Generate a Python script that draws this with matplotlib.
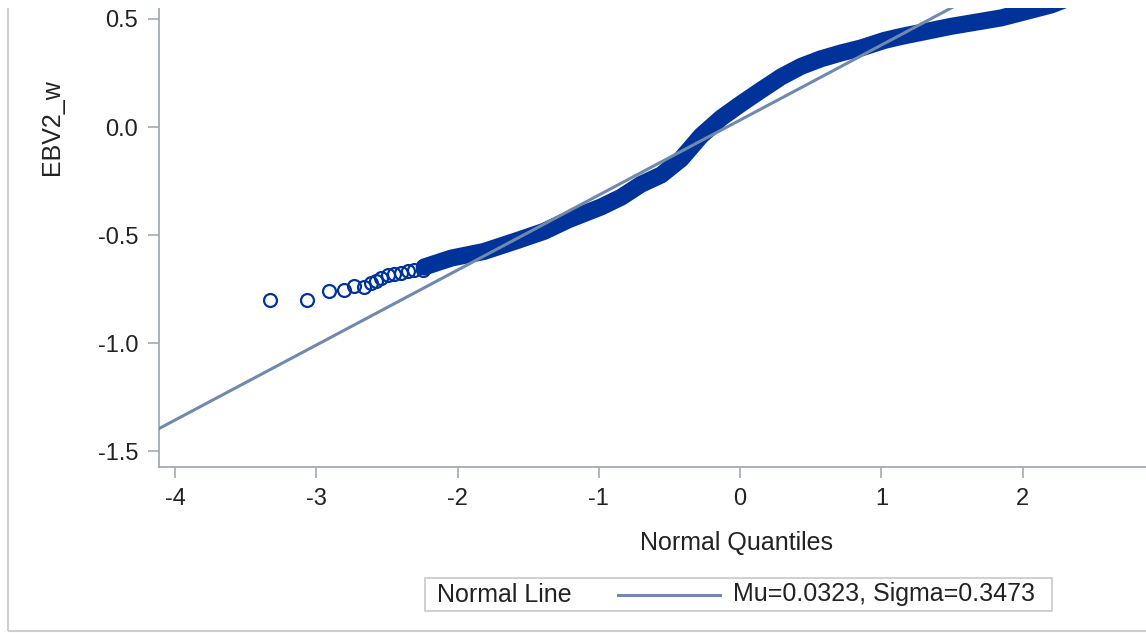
import matplotlib
matplotlib.use('Agg')
import matplotlib.pyplot as plt
from matplotlib.patches import Rectangle
from matplotlib.lines import Line2D
from matplotlib.ticker import FormatStrFormatter

plt.rcParams['font.family'] = ['Liberation Sans', 'DejaVu Sans']
plt.rcParams['axes.unicode_minus'] = False

# normal line parameters
mu = 0.0323
sigma = 0.3473

# lowest observations, drawn as single circles
tail_q = [-3.326, -3.064, -2.913, -2.807, -2.730, -2.659, -2.611, -2.576,
          -2.541, -2.493, -2.447, -2.399, -2.352, -2.305, -2.246]
tail_v = [-0.800, -0.800, -0.761, -0.756, -0.738, -0.741, -0.722, -0.712,
          -0.699, -0.684, -0.679, -0.676, -0.668, -0.664, -0.661]

# dense part of the plot, read along the middle of the band
band_q = [-2.236, -2.045, -1.812, -1.571, -1.387, -1.217, -0.984, -0.842,
          -0.701, -0.559, -0.418, -0.276, -0.134, 0.007, 0.149, 0.290,
          0.432, 0.573, 0.715, 0.856, 1.021, 1.139, 1.493, 1.847,
          2.201, 2.307, 2.555]
band_v = [-0.648, -0.607, -0.576, -0.524, -0.483, -0.430, -0.370, -0.325,
          -0.265, -0.222, -0.148, -0.040, 0.042, 0.108, 0.171, 0.232,
          0.281, 0.316, 0.343, 0.366, 0.401, 0.419, 0.466, 0.505,
          0.565, 0.592, 0.640]

blue = '#003399'
line_col = '#7189AC'
axis_col = '#A3AAB2'
text_col = '#222222'

W, H = 1146, 633
fig = plt.figure(figsize=(W / 100, H / 100), dpi=100)
ax = fig.add_axes([159 / W, 166 / H, 1156 / W, 680 / H])

ax.plot(band_q, band_v, color=blue, lw=12.3, solid_capstyle='round',
        solid_joinstyle='round', zorder=2)
ax.plot(tail_q, tail_v, 'o', ms=9.3, mfc='none', mec=blue, mew=1.6, zorder=3)

xmin, xmax = -4.113, 4.068
ax.plot([xmin, xmax], [mu + sigma * xmin, mu + sigma * xmax],
        color=line_col, lw=2.2, zorder=4)

ax.set_xlim(xmin, xmax)
ax.set_ylim(-1.574, 1.574)
ax.set_xticks([-4, -3, -2, -1, 0, 1, 2])
ax.set_yticks([-1.5, -1.0, -0.5, 0.0, 0.5])
ax.yaxis.set_major_formatter(FormatStrFormatter('%.1f'))

for s in ['top', 'right']:
    ax.spines[s].set_visible(False)
for s in ['left', 'bottom']:
    ax.spines[s].set_color(axis_col)
    ax.spines[s].set_linewidth(1.3)
ax.tick_params(length=8, width=1.2, color=axis_col, labelcolor=text_col,
               labelsize=17, pad=7)

ax.set_xlabel('Normal Quantiles', fontsize=18, color=text_col)
ax.set_ylabel('EBV2_w', fontsize=18, color=text_col)
ax.xaxis.set_label_coords(0.5, -0.094)
ax.yaxis.set_label_coords(-0.082, 0.5)

# legend box at the bottom
fig.add_artist(Rectangle((425 / W, 22 / H), 627 / W, 33 / H, transform=fig.transFigure,
                         facecolor='white', edgecolor='#C8C8C8', lw=1.2))
fig.text(437 / W, 38.5 / H, 'Normal Line', fontsize=18, color=text_col, va='center')
fig.add_artist(Line2D([618 / W, 720 / W], [38 / H, 38 / H], transform=fig.transFigure,
                      color=line_col, lw=2.2))
fig.text(733 / W, 38.5 / H, 'Mu=%.4f, Sigma=%.4f' % (mu, sigma), fontsize=18,
         color=text_col, va='center')

# outer frame and the cut off strip at the top
fig.add_artist(Rectangle((8 / W, 2 / H), 2, 2, transform=fig.transFigure,
                         facecolor='none', edgecolor='#CFCFCF', lw=1.5))
fig.add_artist(Rectangle((0, (H - 8) / H), 1, 1, transform=fig.transFigure,
                         facecolor='white', edgecolor='none', zorder=10))

fig.savefig('out.png', dpi=100)
